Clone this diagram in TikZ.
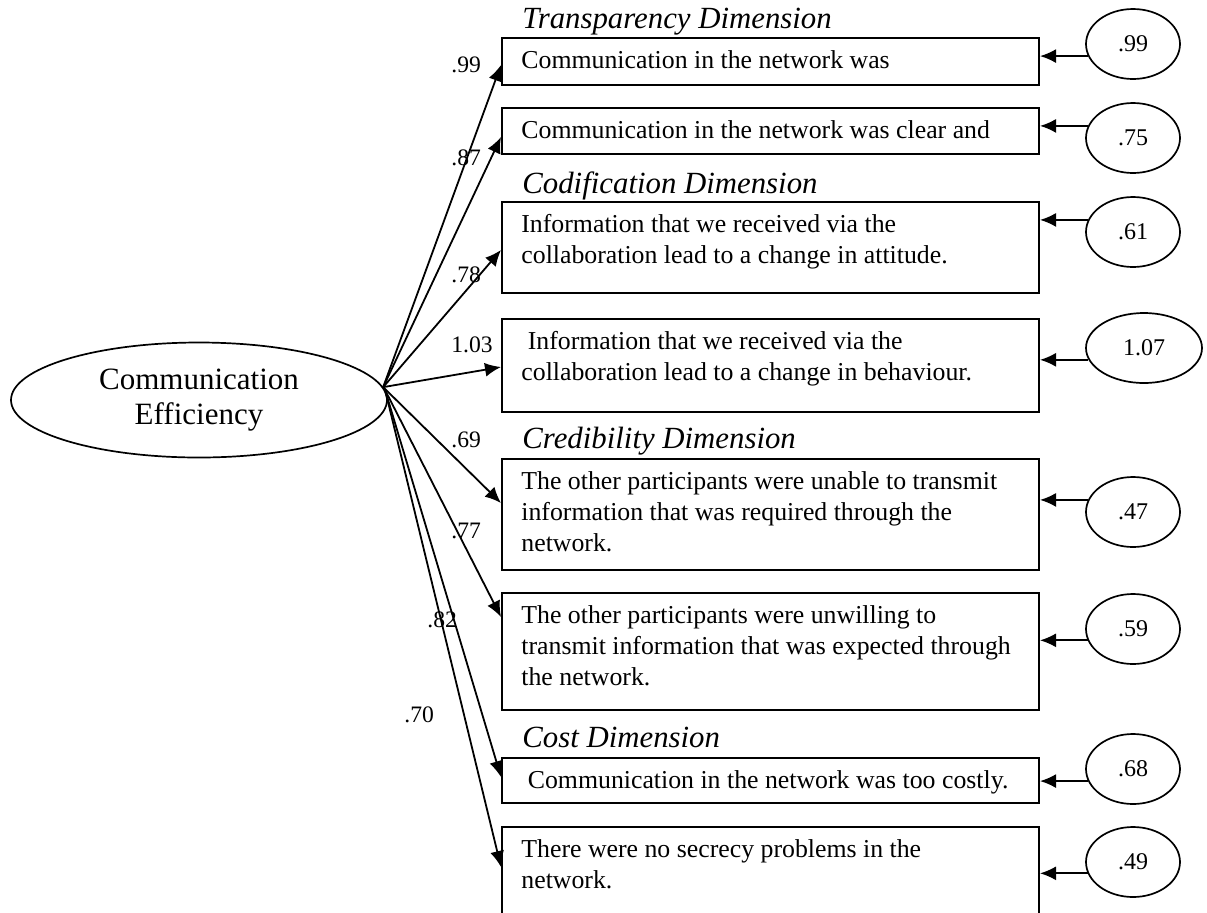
\documentclass[tikz,border=0pt]{standalone}
\usepackage{fontspec}
\setmainfont{Liberation Serif}
\usetikzlibrary{arrows.meta,shapes.geometric,calc}

\begin{document}
\begin{tikzpicture}[x=0.5pt,y=-0.5pt,
  item/.style={draw, line width=1pt, rectangle, minimum width=268.5pt, inner sep=0pt},
  itemtext/.style={anchor=north west, inner sep=0pt, align=left, font=\fontsize{12.9}{15.5}\selectfont},
  dimtitle/.style={anchor=base west, inner sep=0pt, font=\fontsize{15.4}{18}\selectfont\itshape},
  errv/.style={draw, ellipse, line width=0.85pt, minimum width=47pt, minimum height=35pt, inner sep=0pt, font=\fontsize{12}{14}\selectfont},
  loadlabel/.style={anchor=base west, inner sep=0pt, font=\fontsize{11.8}{14}\selectfont},
  loadarrow/.style={line width=0.9pt, -{Latex[length=8pt,width=7pt]}},
]
\useasboundingbox (0,0) rectangle (1207,912);
\clip (0,0) rectangle (1207,912);

% latent factor
\node[draw, ellipse, line width=0.85pt, minimum width=188pt, minimum height=57.5pt,
      inner sep=0pt, align=center, font=\fontsize{15.5}{17.5}\selectfont] (ce) at (199,400)
      {Communication\\Efficiency};

% dimension headings
\node[dimtitle] (h1) at (522,28)  {Transparency Dimension};
\node[dimtitle] (h2) at (522,193) {Codification Dimension};
\node[dimtitle] (h3) at (522,448) {Credibility Dimension};
\node[dimtitle] (h4) at (522,747) {Cost Dimension};

% indicator boxes
\node[item, minimum height=23.5pt] (b1) at (770.5,61.5)  {};
\node[item, minimum height=23pt]   (b2) at (770.5,131)   {};
\node[item, minimum height=45.5pt] (b3) at (770.5,247.5) {};
\node[item, minimum height=46.5pt] (b4) at (770.5,365.5) {};
\node[item, minimum height=55.5pt] (b5) at (770.5,514.5) {};
\node[item, minimum height=58.5pt] (b6) at (770.5,651.5) {};
\node[item, minimum height=22.5pt] (b7) at (770.5,780.5) {};
\node[item, minimum height=51.5pt] (b8) at (770.5,878.5) {};

% indicator wording
\node[itemtext] (t1) at ($(b1.north west)+(20,9.3)$) {\strut Communication in the network was};
\node[itemtext] (t2) at ($(b2.north west)+(20,9.3)$) {\strut Communication in the network was clear and};
\node[itemtext] (t3) at ($(b3.north west)+(20,9.3)$) {\strut Information that we received via the\\collaboration lead to a change in attitude.};
\node[itemtext] (t4) at ($(b4.north west)+(20,9.3)$) {\strut\ Information that we received via the\\collaboration lead to a change in behaviour.};
\node[itemtext] (t5) at ($(b5.north west)+(20,9.3)$) {\strut The other participants were unable to transmit\\information that was required through the\\network.};
\node[itemtext] (t6) at ($(b6.north west)+(20,9.3)$) {\strut The other participants were unwilling to\\transmit information that was expected through\\the network.};
\node[itemtext] (t7) at ($(b7.north west)+(20,9.3)$) {\strut\ Communication in the network was too costly.};
\node[itemtext] (t8) at ($(b8.north west)+(20,9.3)$) {\strut There were no secrecy problems in the\\network.};

% error terms
\node[errv] (e1) at (1133,44)  {.99};
\node[errv] (e2) at (1133,138) {.75};
\node[errv] (e3) at (1133,232) {.61};
\node[errv, minimum width=58pt] (e4) at (1144,348) {1.07};
\node[errv] (e5) at (1133,512) {.47};
\node[errv] (e6) at (1133,629) {.59};
\node[errv] (e7) at (1133,769) {.68};
\node[errv] (e8) at (1133,862) {.49};

\draw[loadarrow] (e1.195) -- (e1.195 -| b1.east);
\draw[loadarrow] (e2.165) -- (e2.165 -| b2.east);
\draw[loadarrow] (e3.165) -- (e3.165 -| b3.east);
\draw[loadarrow] (e4.192.4) -- (e4.192.4 -| b4.east);
\draw[loadarrow] (e5.165) -- (e5.165 -| b5.east);
\draw[loadarrow] (e6.194) -- (e6.194 -| b6.east);
\draw[loadarrow] (e7.195) -- (e7.195 -| b7.east);
\draw[loadarrow] (e8.194) -- (e8.194 -| b8.east);

% factor loadings
\draw[loadarrow] (ce.4) -- ([yshift=-1.75pt]b1.west);
\draw[loadarrow] (ce.4) -- ([yshift=-3pt]b2.west);
\draw[loadarrow] (ce.4) -- ([yshift=-1.25pt]b3.west);
\draw[loadarrow] (ce.4) -- ([yshift=-0.75pt]b4.west);
\draw[loadarrow] (ce.4) -- ([yshift=5.75pt]b5.west);
\draw[loadarrow] (ce.3) -- ([yshift=17.25pt]b6.west);
\draw[loadarrow] (ce.3) -- ([yshift=1.75pt]b7.west);
\draw[loadarrow] (ce.3) -- ([yshift=5.75pt]b8.west);

\node[loadlabel] (l1) at (451,72)  {.99};
\node[loadlabel] (l2) at (451,165) {.87};
\node[loadlabel] (l3) at (451,282) {.78};
\node[loadlabel] (l4) at (451,352) {1.03};
\node[loadlabel] (l5) at (451,447) {.69};
\node[loadlabel] (l6) at (451,538) {.77};
\node[loadlabel] (l7) at (427,627) {.82};
\node[loadlabel] (l8) at (404,722) {.70};
\end{tikzpicture}
\end{document}
